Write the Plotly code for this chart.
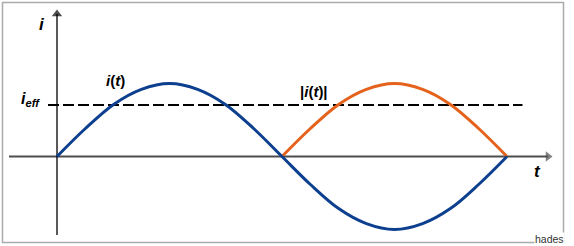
import plotly.graph_objects as go

# time in eighths of a half-period (one full period = 16 units)
t_vals = [0, 1, 2, 3, 4, 5, 6, 7, 8, 9, 10, 11, 12, 13, 14, 15, 16]
i_vals = [0, 0.38, 0.71, 0.92, 1.0, 0.92, 0.71, 0.38, 0,
          -0.38, -0.71, -0.92, -1.0, -0.92, -0.71, -0.38, 0]
t_abs = [8, 9, 10, 11, 12, 13, 14, 15, 16]
i_abs = [0, 0.38, 0.71, 0.92, 1.0, 0.92, 0.71, 0.38, 0]
i_eff = 0.707
eff_span = [-0.32, 16.55]

BLUE = "#0d3f8f"
ORANGE = "#e4621b"

W, H = 574, 246
PX_X = 28.125   # pixels per t unit
X0 = 57         # pixel of t = 0
PX_Y = 73.0     # pixels per i unit
Y0 = 156.5      # pixel of i = 0

xr = [-X0 / PX_X, (W - X0) / PX_X]
yr = [-(H - Y0) / PX_Y, Y0 / PX_Y]

def tx(px):
    return (px - X0) / PX_X

def iy(py):
    return (Y0 - py) / PX_Y

fig = go.Figure()

# axes drawn as lines with arrow markers at their ends
fig.add_trace(go.Scatter(x=[tx(9), tx(548)], y=[0, 0], mode="lines+markers",
                         line=dict(color="#4d4d4d", width=1.8),
                         marker=dict(symbol=["circle", "triangle-right"], size=[0, 9],
                                     color="#4d4d4d", line=dict(width=0)),
                         hoverinfo="skip"))
fig.add_trace(go.Scatter(x=[0, 0], y=[iy(235), iy(14)], mode="lines+markers",
                         line=dict(color="black", width=1.3),
                         marker=dict(symbol=["circle", "triangle-up"], size=[0, 9],
                                     color="black", line=dict(width=0)),
                         hoverinfo="skip"))

fig.add_trace(go.Scatter(x=eff_span, y=[i_eff, i_eff], mode="lines",
                         line=dict(color="black", width=2, dash="11px,4px"),
                         hoverinfo="skip"))
fig.add_trace(go.Scatter(x=t_abs, y=i_abs, mode="lines", line_shape="spline",
                         line=dict(color=ORANGE, width=3), hoverinfo="skip"))
fig.add_trace(go.Scatter(x=t_vals, y=i_vals, mode="lines", line_shape="spline",
                         line=dict(color=BLUE, width=3), hoverinfo="skip"))

ann = []
FONT = "Liberation Sans, Arial, sans-serif"
def label(px, py, text, size):
    ann.append(dict(x=tx(px), y=iy(py), xref="x", yref="y", showarrow=False,
                    text=text, font=dict(family=FONT, size=size, color="black")))

label(42, 24, "<b><i>i</i></b>", 17)
label(30, 99, "<b><i>i</i></b><sub><b><i>eff</i></b></sub>", 16)
label(115, 80, "<b><i>i</i>(<i>t</i>)</b>", 15)
label(314, 91, "<b>|<i>i</i>(<i>t</i>)|</b>", 15)
label(537, 171, "<b><i>t</i></b>", 17)

# border
shapes = [dict(type="rect", xref="paper", yref="paper",
               x0=2.5 / W, x1=563.5 / W, y0=1 - 242.5 / H, y1=1 - 2.5 / H,
               line=dict(color="#aaaaaa", width=1.5), fillcolor="rgba(0,0,0,0)",
               layer="below")]

ann.append(dict(x=565 / W, y=0, xref="paper", yref="paper", xanchor="right",
                yanchor="bottom", showarrow=False, text="hades",
                font=dict(family="Liberation Sans Narrow, Arial Narrow, Liberation Sans, sans-serif",
                          size=10.5, color="#333333"),
                bgcolor="white", borderpad=0))

fig.update_layout(
    width=W, height=H, margin=dict(l=0, r=0, t=0, b=0),
    paper_bgcolor="white", plot_bgcolor="white", showlegend=False,
    xaxis=dict(range=xr, visible=False, fixedrange=True),
    yaxis=dict(range=yr, visible=False, fixedrange=True),
    annotations=ann, shapes=shapes,
)

fig.write_html("out.html")
